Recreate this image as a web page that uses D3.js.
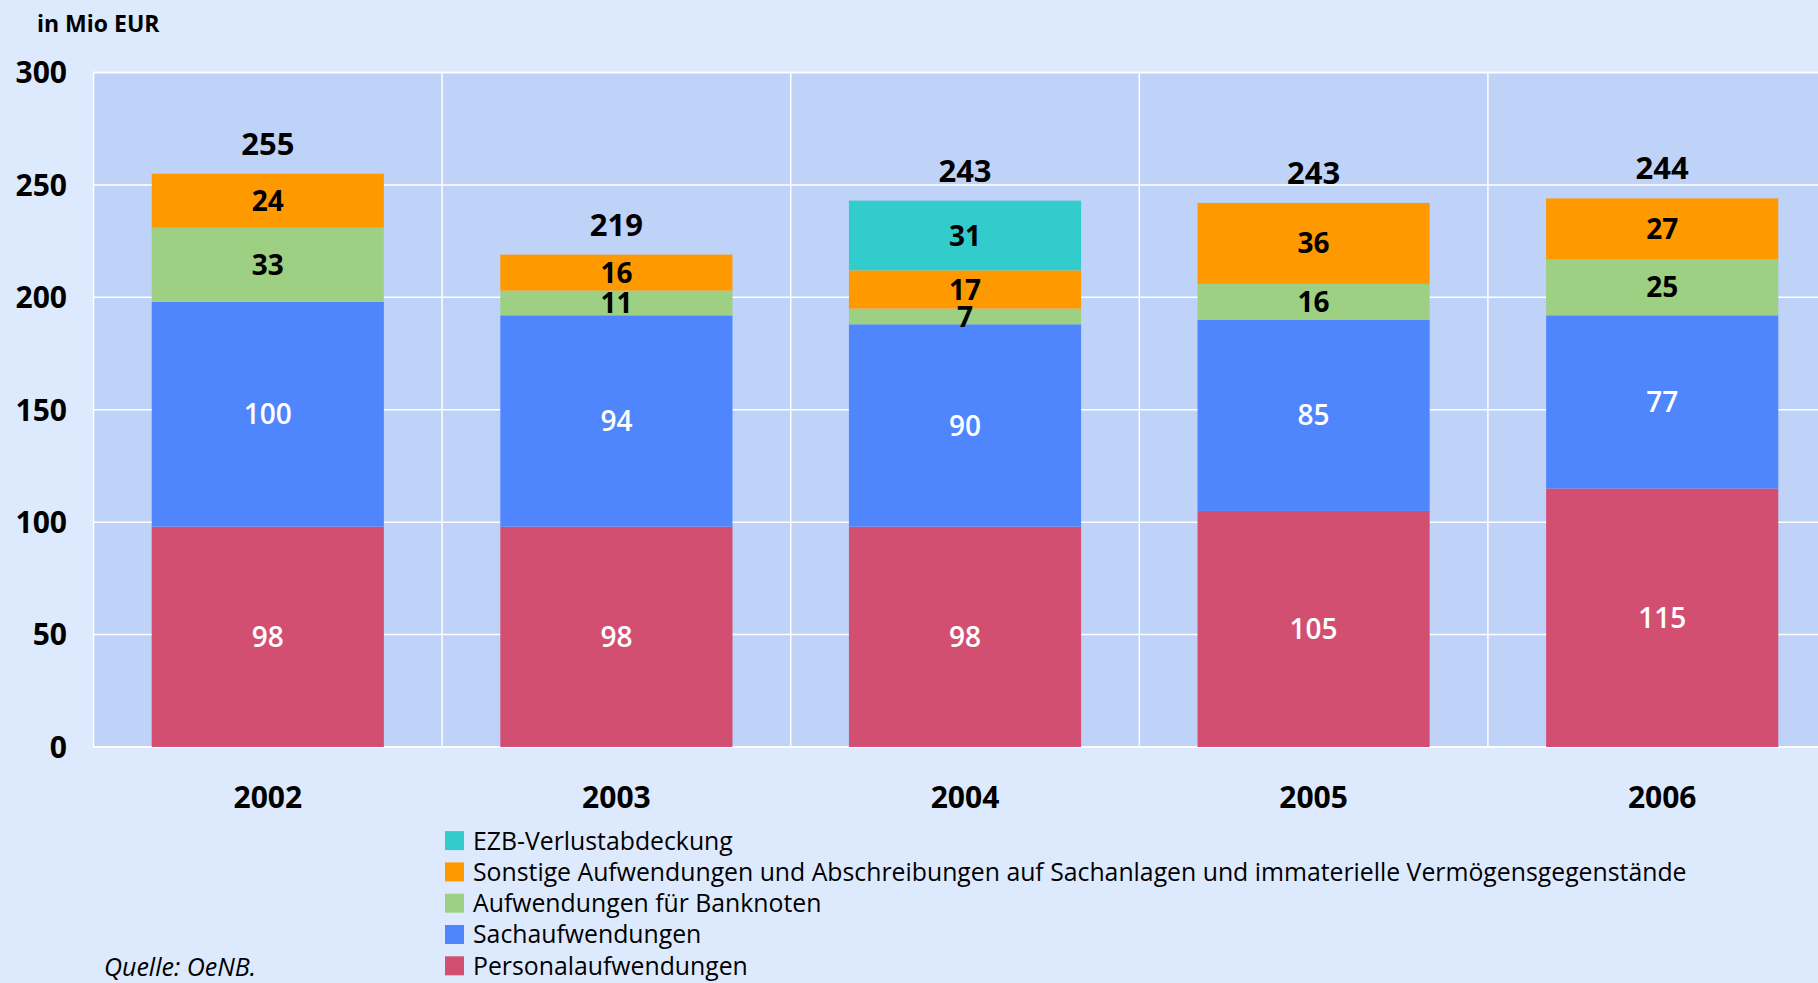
<!DOCTYPE html>
<html>
<head>
<meta charset="utf-8">
<script src="https://cdn.jsdelivr.net/npm/d3@7"></script>
<style>
  html, body { margin: 0; padding: 0; background: #dde9fd; }
  svg { display: block; }
</style>
</head>
<body>
<svg id="chart" width="1818" height="983"></svg>
<script>
// Data
const years = ["2002", "2003", "2004", "2005", "2006"];
const personal  = [98, 98, 98, 105, 115];
const sach      = [100, 94, 90, 85, 77];
const banknoten = [33, 11, 7, 16, 25];
const sonstige  = [24, 16, 17, 36, 27];
const ezb       = [0, 0, 31, 0, 0];
const totals    = [255, 219, 243, 243, 244];
const yTicks    = [0, 50, 100, 150, 200, 250, 300];

const seriesNames = [
  "Personalaufwendungen",
  "Sachaufwendungen",
  "Aufwendungen für Banknoten",
  "Sonstige Aufwendungen und Abschreibungen auf Sachanlagen und immaterielle Vermögensgegenstände",
  "EZB-Verlustabdeckung"
];
const seriesValues = [personal, sach, banknoten, sonstige, ezb];
const seriesColors = ["#d34f72", "#4f86fe", "#9dd083", "#ff9900", "#33cccc"];
const labelColors  = ["#fff", "#fff", "#000", "#000", "#000"];

const svg = d3.select("#chart");
const FONT = "'Open Sans', 'DejaVu Sans', sans-serif";

// Plot geometry
const plotLeft = 93.5, plotTop = 72.5, plotBottom = 747;
const step = 348.6;
const plotRight = plotLeft + step * years.length;

const x = d3.scaleBand().domain(years).range([plotLeft, plotRight]).padding(0);
const y = d3.scaleLinear().domain([0, 300]).range([plotBottom, plotTop]);
const barW = x.bandwidth() * 0.666;

// Plot background
svg.append("rect")
  .attr("x", plotLeft).attr("y", plotTop)
  .attr("width", plotRight - plotLeft).attr("height", plotBottom - plotTop)
  .attr("fill", "#bfd2f8")
  .attr("stroke", "#ffffff").attr("stroke-width", 1.5);

// Grid lines
svg.append("g").selectAll("line.h")
  .data(yTicks)
  .join("line")
  .attr("x1", plotLeft).attr("x2", plotRight)
  .attr("y1", d => y(d)).attr("y2", d => y(d))
  .attr("stroke", "#ffffff").attr("stroke-width", 1.5);

svg.append("g").selectAll("line.v")
  .data(years.slice(1))
  .join("line")
  .attr("x1", d => x(d)).attr("x2", d => x(d))
  .attr("y1", plotTop).attr("y2", plotBottom)
  .attr("stroke", "#ffffff").attr("stroke-width", 1.5);

// Stack
const table = years.map((yr, i) => {
  const row = { year: yr };
  seriesNames.forEach((s, k) => { row[s] = seriesValues[k][i]; });
  return row;
});
const stacked = d3.stack().keys(seriesNames)(table);

const layers = svg.append("g").selectAll("g")
  .data(stacked)
  .join("g")
  .attr("fill", (d, k) => seriesColors[k]);

layers.selectAll("rect")
  .data(d => d)
  .join("rect")
  .attr("x", d => x(d.data.year) + (x.bandwidth() - barW) / 2)
  .attr("width", barW)
  .attr("y", d => y(d[1]))
  .attr("height", d => y(d[0]) - y(d[1]));

// Segment labels
stacked.forEach((layer, k) => {
  svg.append("g").selectAll("text")
    .data(layer.filter(d => d[1] - d[0] > 0))
    .join("text")
    .attr("x", d => x(d.data.year) + x.bandwidth() / 2)
    .attr("y", d => y((d[0] + d[1]) / 2))
    .attr("dy", "0.36em")
    .attr("text-anchor", "middle")
    .attr("font-family", FONT)
    .attr("font-weight", k < 2 ? 600 : 700)
    .attr("font-size", 28)
    .attr("fill", labelColors[k])
    .text(d => d[1] - d[0]);
});

// Totals
svg.append("g").selectAll("text")
  .data(years)
  .join("text")
  .attr("x", d => x(d) + x.bandwidth() / 2)
  .attr("y", (d, i) => y(d3.sum(seriesValues, s => s[i])) - 19)
  .attr("text-anchor", "middle")
  .attr("font-family", FONT)
  .attr("font-weight", 700)
  .attr("font-size", 31)
  .attr("fill", "#000")
  .text((d, i) => totals[i]);

// Y axis labels
svg.append("g").selectAll("text")
  .data(yTicks)
  .join("text")
  .attr("x", 67)
  .attr("y", d => y(d))
  .attr("dy", "0.36em")
  .attr("text-anchor", "end")
  .attr("font-family", FONT)
  .attr("font-weight", 700)
  .attr("font-size", 30)
  .attr("fill", "#000")
  .text(d => d);

// X axis labels
svg.append("g").selectAll("text")
  .data(years)
  .join("text")
  .attr("x", d => x(d) + x.bandwidth() / 2)
  .attr("y", 797)
  .attr("dy", "0.36em")
  .attr("text-anchor", "middle")
  .attr("font-family", FONT)
  .attr("font-weight", 700)
  .attr("font-size", 30)
  .attr("fill", "#000")
  .text(d => d);

// Unit
svg.append("text")
  .attr("x", 37).attr("y", 32)
  .attr("font-family", FONT)
  .attr("font-weight", 700)
  .attr("font-size", 23)
  .attr("fill", "#000")
  .text("in Mio EUR");

// Legend (top to bottom: reverse stack order)
const legendOrder = d3.range(seriesNames.length).reverse();
const legend = svg.append("g").selectAll("g")
  .data(legendOrder)
  .join("g")
  .attr("transform", (k, i) => `translate(445, ${840.6 + i * 31.3})`);

legend.append("rect")
  .attr("x", 0).attr("y", -9.5)
  .attr("width", 19).attr("height", 19)
  .attr("fill", k => seriesColors[k]);

legend.append("text")
  .attr("x", 28).attr("y", 0)
  .attr("dy", "0.36em")
  .attr("font-family", FONT)
  .attr("font-size", 24.8)
  .attr("fill", "#000")
  .text(k => seriesNames[k]);

// Source
svg.append("text")
  .attr("x", 104).attr("y", 976)
  .attr("font-family", FONT)
  .attr("font-style", "italic")
  .attr("font-size", 25)
  .attr("fill", "#000")
  .text("Quelle: OeNB.");
</script>
</body>
</html>
